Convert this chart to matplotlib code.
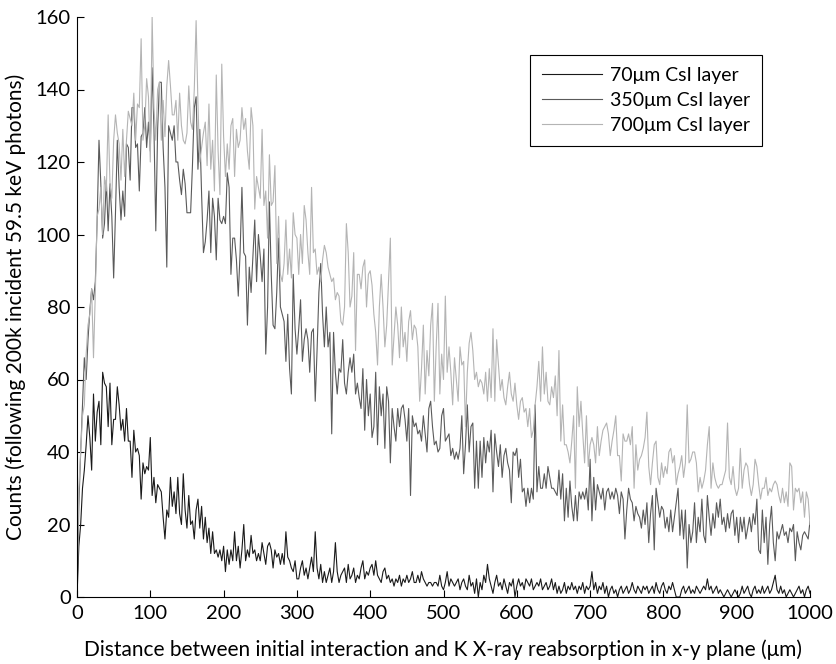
import numpy as np
from matplotlib import pyplot as plt

plt.rcParams['font.family'] = ['Lato', 'DejaVu Sans']

# distance grid (um), 2.5 um bins
dist_um = np.arange(0, 1000.1, 2.5)

# counts, one block of 40 values per 100 um
csi_70 = [0,14,20,30,35,42,50,44,35,56, 43,51,54,42,62,59,58,47,59,42, 49,49,58,53,46,49,43,52,43,43, 33,46,40,41,39,27,37,34,36,35,
          44,28,33,26,31,30,29,22,16,24, 22,33,25,29,23,33,23,20,34,24, 19,28,20,21,16,24,27,19,25,16, 22,15,19,12,18,12,13,11,13,10,
          14,7,13,9,13,10,18,10,14,8, 13,20,10,13,11,17,12,13,10,12, 10,15,12,9,14,15,13,8,13,11, 12,9,12,9,18,11,10,8,7,10,
          5,5,8,10,6,8,5,8,11,7, 18,8,5,9,4,7,4,6,8,4, 7,15,7,4,6,7,8,4,9,5, 6,8,4,6,5,8,10,5,7,6,
          8,9,6,10,6,5,4,7,8,5, 6,4,5,3,5,4,6,3,5,4, 6,4,5,7,4,4,6,4,7,5, 4,3,4,4,3,4,4,3,6,3,
          2,4,7,3,5,4,3,4,5,2, 4,5,3,2,6,3,4,1,5,0, 4,2,6,4,9,5,3,1,4,6, 3,4,2,5,3,1,4,3,5,0,
          3,5,3,4,2,5,4,3,5,2, 3,4,3,5,2,3,4,2,3,5, 2,4,1,3,1,2,4,1,3,2, 4,2,3,1,3,2,4,1,3,2,
          3,7,2,4,1,3,2,4,1,3, 0,2,3,1,2,0,2,3,1,2, 3,1,2,4,2,1,3,2,1,3, 2,3,1,2,3,1,4,2,1,3,
          4,2,1,3,2,4,2,0,0,0, 2,3,1,2,3,1,2,1,3,2, 1,2,3,2,5,2,3,1,2,3, 1,2,1,0,1,2,1,0,1,2,
          1,0,1,3,1,2,3,1,0,2, 3,1,2,1,3,1,2,3,1,2, 4,6,2,1,3,1,2,0,1,2, 1,0,1,2,3,1,2,0,2,3,
          1]

csi_350 = [0,25,40,53,66,60,71,79,85,82, 87,104,126,114,99,103,115,101,114,105, 88,106,126,113,104,112,105,125,124,115, 135,135,124,125,112,127,128,135,124,131,
           123,146,129,101,129,142,142,124,113,91, 130,128,126,130,120,120,115,111,118,114, 106,106,106,119,135,138,118,129,111,95, 98,104,112,95,110,105,93,110,104,103,
           105,103,117,113,89,99,99,93,83,95, 113,95,94,75,91,84,94,104,87,100, 94,87,96,67,80,109,89,75,74,84, 99,80,78,76,65,78,63,56,89,74,
           67,74,82,65,71,74,71,62,73,74, 54,68,84,92,78,69,80,69,73,45, 73,62,56,63,62,71,59,56,62,66, 62,67,56,59,55,52,63,46,60,50,
           56,44,47,62,42,58,50,56,41,58, 54,37,52,47,43,52,47,52,53,49, 43,52,28,50,47,48,45,46,43,50, 45,40,52,54,47,42,43,40,41,50,
           52,43,44,45,39,41,38,40,38,41, 50,34,42,53,40,47,48,30,43,30, 43,33,44,37,43,40,46,29,45,40, 36,42,33,39,41,37,35,26,40,39,
           41,33,38,29,30,25,30,26,30,27, 53,29,36,30,30,34,30,36,33,30, 30,29,28,35,27,34,21,30,22,32, 25,21,28,21,29,27,29,27,30,24,
           38,21,33,24,31,29,27,30,24,29, 30,27,29,27,30,28,23,29,27,16, 24,30,27,26,21,25,23,22,19,24, 20,26,15,23,28,13,30,26,22,25,
           24,19,22,18,24,18,22,26,30,17, 24,16,24,8,20,15,18,26,15,22, 18,27,17,15,28,22,17,23,19,26, 22,27,20,22,18,23,19,23,24,17,
           22,15,22,18,22,16,19,22,18,23, 20,27,13,12,24,15,22,9,20,25, 15,10,18,16,18,20,17,18,15,19, 18,20,10,18,15,13,17,18,17,16,
           21]

csi_700 = [0,30,40,50,53,67,75,78,85,66, 84,105,107,113,100,116,112,133,114,110, 126,133,128,125,115,129,116,126,134,132, 130,139,126,136,135,154,126,130,143,138,
           120,160,135,126,140,142,126,137,127,141, 148,141,133,133,137,126,139,130,126,125, 128,141,131,129,140,159,136,120,124,128, 131,119,136,118,126,112,144,123,111,147,
           127,116,125,118,130,132,116,129,124,126, 135,129,132,123,118,135,130,107,116,113, 110,129,108,112,99,122,108,109,119,92, 105,89,87,92,104,89,96,88,106,100,
           99,89,100,92,108,104,95,89,113,95, 96,89,91,87,93,97,95,91,89,87, 88,82,84,83,76,75,80,103,95,80, 83,95,68,89,89,85,91,93,80,89,
           90,86,78,73,64,80,89,80,69,75, 87,99,64,72,80,75,66,80,69,73, 65,76,79,71,75,74,69,54,63,75, 56,68,61,75,81,54,69,81,56,67,
           60,83,62,69,62,53,66,60,54,69, 64,65,47,62,70,73,68,60,62,58, 60,59,56,62,54,63,55,74,54,71, 64,57,60,55,53,58,62,56,54,59,
           53,49,54,55,51,52,47,52,44,46, 53,58,65,54,69,56,62,54,53,58, 55,61,50,68,43,53,42,42,40,37, 43,50,30,58,47,54,45,37,50,36,
           42,44,42,37,47,39,43,46,47,48, 45,39,43,46,50,39,39,32,45,43, 43,45,42,47,30,42,35,38,39,41, 44,51,36,31,37,42,43,33,31,37,
           33,36,34,40,41,37,39,31,34,36, 39,33,37,53,37,38,40,40,37,29, 33,30,32,35,42,47,30,37,33,31, 30,31,31,33,35,48,33,31,36,30,
           28,30,41,30,35,37,36,31,28,31, 38,36,31,27,30,30,33,28,30,29, 31,32,31,28,26,30,26,29,25,37, 36,24,30,29,30,26,29,22,29,27,
           20]

labels = ['70\u03bcm CsI layer', '350\u03bcm CsI layer', '700\u03bcm CsI layer']
colors = ['#1a1a1a', '#5a5a5a', '#b4b4b4']

fig = plt.figure(figsize=(8.36, 6.64), dpi=100)
ax = fig.add_axes([77/836, 1 - 597/664, 733/836, 580/664])

for y, lab, c in zip([csi_70, csi_350, csi_700], labels, colors):
    ax.plot(dist_um, y, color=c, lw=0.8, label=lab)

ax.set_xlim(0, 1000)
ax.set_ylim(0, 160)
ax.set_xticks(np.arange(0, 1001, 100))
ax.set_yticks(np.arange(0, 161, 20))
ax.tick_params(direction='in', length=5, labelsize=14.5, width=0.8)
ax.tick_params(axis='x', pad=6)
ax.tick_params(axis='y', pad=4.5)
for s in ['top', 'right']:
    ax.spines[s].set_visible(False)
for s in ['left', 'bottom']:
    ax.spines[s].set_linewidth(0.8)

ax.set_xlabel('Distance between initial interaction and K X-ray reabsorption in x-y plane (\u03bcm)',
              fontsize=15, labelpad=12)
ax.set_ylabel('Counts (following 200k incident 59.5 keV photons)', fontsize=15, labelpad=7)

leg = ax.legend(loc='upper right', bbox_to_anchor=(0.934, 0.934), borderaxespad=0,
                fontsize=14, handlelength=3.1, handletextpad=0.4, borderpad=0.6,
                labelspacing=0.42, fancybox=False, edgecolor='black', framealpha=1)
leg.get_frame().set_linewidth(0.8)

plt.savefig('out.png', dpi=100)
